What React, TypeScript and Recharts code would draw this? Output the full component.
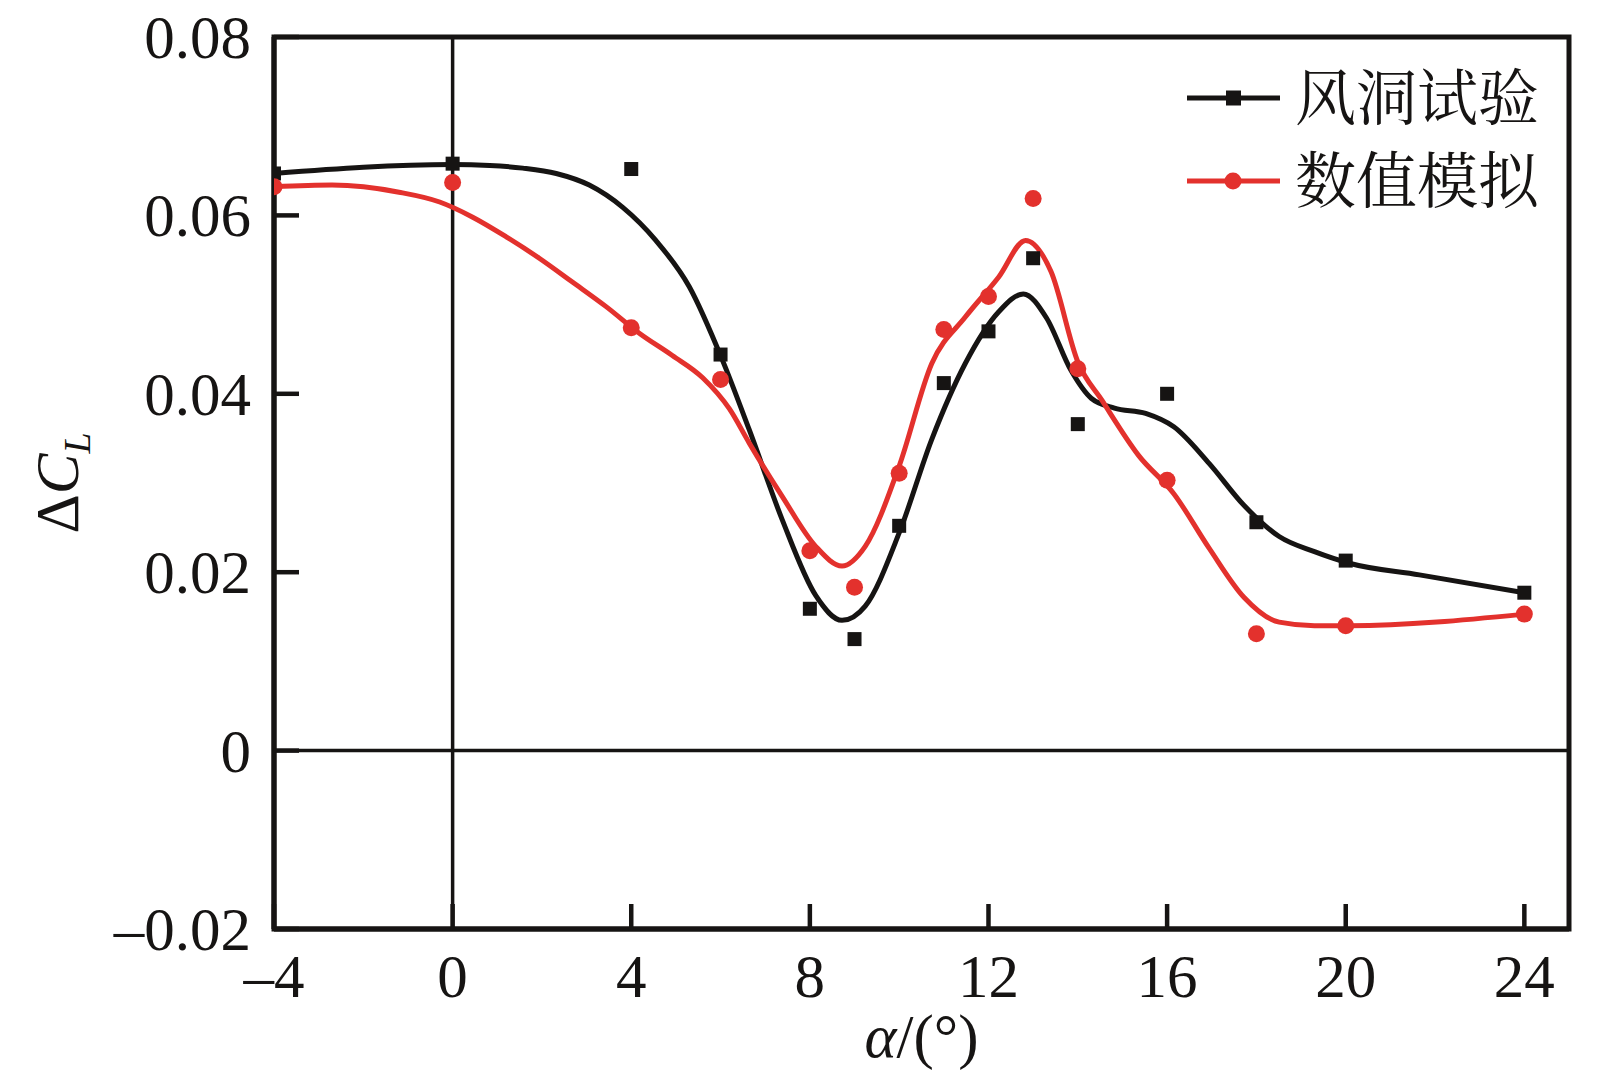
import { ComposedChart, Line, Scatter, XAxis, YAxis, ReferenceLine, ReferenceArea, Legend } from 'recharts'

// measured points (angle of attack, ΔCL)
const alphaPoints = [-4, 0, 4, 6, 8, 9, 10, 11, 12, 13, 14, 16, 18, 20, 24]
const windTunnelValues = [0.0647, 0.0658, 0.0652, 0.0444, 0.0159, 0.0125, 0.0252, 0.0412, 0.047, 0.0552, 0.0366, 0.04, 0.0256, 0.0213, 0.0177]
const simulationValues = [0.0632, 0.0637, 0.0474, 0.0416, 0.0224, 0.0183, 0.0311, 0.0472, 0.0509, 0.0619, 0.0428, 0.0303, 0.0131, 0.014, 0.0153]

// fitted curves
const windCurveAlpha = [-4, 0, 0.83, 1.57, 2.32, 3.06, 3.81, 4.55, 5.3, 6.04, 6.64, 7.38, 8.13, 8.72, 9.24, 10, 10.73, 11.48, 12.23, 12.78, 13.3, 13.85, 14.3, 14.82, 15.52, 16.15, 16.94, 17.72, 18.51, 19.3, 20.08, 21.65, 24]
const windCurveValues = [0.0647, 0.0657, 0.0656, 0.0653, 0.0647, 0.0634, 0.0609, 0.0572, 0.052, 0.0438, 0.036, 0.0259, 0.0174, 0.0146, 0.0162, 0.0244, 0.0349, 0.0434, 0.0492, 0.0512, 0.0485, 0.0426, 0.0395, 0.0384, 0.0378, 0.0363, 0.0322, 0.0275, 0.024, 0.0223, 0.021, 0.0197, 0.0177]
const simCurveAlpha = [-4, -2.7, -1.2, -0.29, 0.45, 1.2, 1.94, 2.69, 3.43, 4.18, 4.92, 5.6, 6.2, 6.64, 7.38, 8.13, 8.72, 9.24, 10, 10.73, 11.48, 12.23, 12.83, 13.4, 14, 14.55, 15.36, 16.15, 16.94, 17.72, 18.51, 19.3, 20.08, 24]
const simCurveValues = [0.0632, 0.0634, 0.0626, 0.0615, 0.0598, 0.0576, 0.0552, 0.0525, 0.0498, 0.0468, 0.0443, 0.0418, 0.0383, 0.0345, 0.0285, 0.0229, 0.0207, 0.0229, 0.0319, 0.0434, 0.0486, 0.0531, 0.0572, 0.0537, 0.0436, 0.0392, 0.0331, 0.0288, 0.0227, 0.0172, 0.0144, 0.014, 0.014, 0.0153]

const xTicks = [-4, 0, 4, 8, 12, 16, 20, 24]
const xTickLabels = ['–4', '0', '4', '8', '12', '16', '20', '24']
const yTicks = [-0.02, 0, 0.02, 0.04, 0.06, 0.08]
const yTickLabels = ['–0.02', '0', '0.02', '0.04', '0.06', '0.08']

const seriesNames = ['风洞试验', '数值模拟']

const BLACK = '#161413'
const RED = '#e3312d'
const SERIF = '"Liberation Serif", "Times New Roman", serif'
const CJK = '"Noto Serif CJK SC", "Noto Sans CJK SC", serif'
const FS = 61
const TICK_LEN = 25

const zip = (xs: number[], ys: number[]) => xs.map((x, i) => ({ x, y: ys[i] }))
const windPoints = zip(alphaPoints, windTunnelValues)
const simPoints = zip(alphaPoints, simulationValues)
const windCurve = zip(windCurveAlpha, windCurveValues)
const simCurve = zip(simCurveAlpha, simCurveValues)

const XTick = (props: any) => {
  const { x, y, payload } = props
  const i = xTicks.indexOf(payload.value)
  return (
    <g>
      <line x1={x} x2={x} y1={y} y2={y - TICK_LEN} stroke={BLACK} strokeWidth={4.5} />
      <text x={x} y={y + 68} textAnchor="middle" fontFamily={SERIF} fontSize={FS} fill={BLACK}>
        {xTickLabels[i]}
      </text>
    </g>
  )
}

const YTick = (props: any) => {
  const { x, y, payload } = props
  const i = yTicks.findIndex((t) => Math.abs(t - payload.value) < 1e-9)
  return (
    <g>
      <line x1={x} x2={x + TICK_LEN} y1={y} y2={y} stroke={BLACK} strokeWidth={4.5} />
      <text x={x - 23} y={y + 21} textAnchor="end" fontFamily={SERIF} fontSize={FS} fill={BLACK}>
        {yTickLabels[i]}
      </text>
    </g>
  )
}

const Square = (p: any) => <rect x={p.cx - 7} y={p.cy - 7} width={14} height={14} fill={BLACK} />
const Dot = (p: any) => <circle cx={p.cx} cy={p.cy} r={8.5} fill={RED} />

const LegendBox = () => (
  <svg width={430} height={170} style={{ overflow: 'visible' }}>
    {[BLACK, RED].map((c, i) => {
      const cy = 40 + i * 83
      return (
        <g key={i}>
          <line x1={17} x2={110} y1={cy} y2={cy} stroke={c} strokeWidth={5} />
          {i === 0 ? (
            <rect x={56} y={cy - 7.5} width={15} height={15} fill={c} />
          ) : (
            <circle cx={63} cy={cy} r={8.5} fill={c} />
          )}
          <text x={125} y={cy + 22} fontFamily={CJK} fontSize={FS} fill={BLACK}>
            {seriesNames[i]}
          </text>
        </g>
      )
    })}
  </svg>
)

export default function App() {
  return (
    <div style={{ position: 'absolute', left: 0, top: 0, width: 1605, height: 1083, background: '#fff' }}>
      <ComposedChart width={1605} height={1083} margin={{ top: 37, right: 36, bottom: 0, left: 0 }}>
        <XAxis
          dataKey="x"
          type="number"
          domain={[-4, 25]}
          ticks={xTicks}
          interval={0}
          allowDataOverflow
          height={154}
          tickSize={0}
          tickMargin={0}
          tickLine={false}
          axisLine={{ stroke: BLACK, strokeWidth: 5 }}
          tick={<XTick />}
          label={{
            content: (p: any) => {
              const vb = p.viewBox
              return (
                <text x={vb.x + vb.width / 2} y={vb.y + 128} textAnchor="middle" fontFamily={SERIF} fontSize={FS} fill={BLACK}>
                  <tspan fontStyle="italic">α</tspan>
                  <tspan>/(°)</tspan>
                </text>
              )
            },
          }}
        />
        <YAxis
          dataKey="y"
          type="number"
          domain={[-0.02, 0.08]}
          ticks={yTicks}
          interval={0}
          allowDataOverflow
          width={274}
          tickSize={0}
          tickMargin={0}
          tickLine={false}
          axisLine={{ stroke: BLACK, strokeWidth: 5 }}
          tick={<YTick />}
          label={{
            content: (p: any) => {
              const vb = p.viewBox
              const cx = vb.x + 58
              const cy = vb.y + vb.height / 2
              return (
                <text
                  x={cx}
                  y={cy}
                  transform={`rotate(-90 ${cx} ${cy})`}
                  textAnchor="middle"
                  fontFamily={SERIF}
                  fontSize={FS}
                  fill={BLACK}
                  dy={20}
                >
                  <tspan>Δ</tspan>
                  <tspan fontStyle="italic">C</tspan>
                  <tspan fontStyle="italic" fontSize={38} dy={12}>L</tspan>
                </text>
              )
            },
          }}
        />
        <ReferenceArea x1={-4} x2={25} y1={-0.02} y2={0.08} fill="none" stroke={BLACK} strokeWidth={5} ifOverflow="visible" />
        <ReferenceLine x={0} stroke={BLACK} strokeWidth={3.5} />
        <ReferenceLine y={0} stroke={BLACK} strokeWidth={3.5} />
        <Legend
          layout="vertical"
          align="center"
          verticalAlign="middle"
          content={<LegendBox />}
          wrapperStyle={{ position: 'absolute', left: 1170, top: 58, width: 430, height: 170 }}
        />
        <Line data={windCurve} dataKey="y" type="monotone" stroke={BLACK} strokeWidth={5} dot={false} activeDot={false} isAnimationActive={false} legendType="none" />
        <Line data={simCurve} dataKey="y" type="monotone" stroke={RED} strokeWidth={5} dot={false} activeDot={false} isAnimationActive={false} legendType="none" />
        <Scatter data={windPoints} dataKey="y" shape={Square} isAnimationActive={false} legendType="none" />
        <Scatter data={simPoints} dataKey="y" shape={Dot} isAnimationActive={false} legendType="none" />
      </ComposedChart>
    </div>
  )
}
